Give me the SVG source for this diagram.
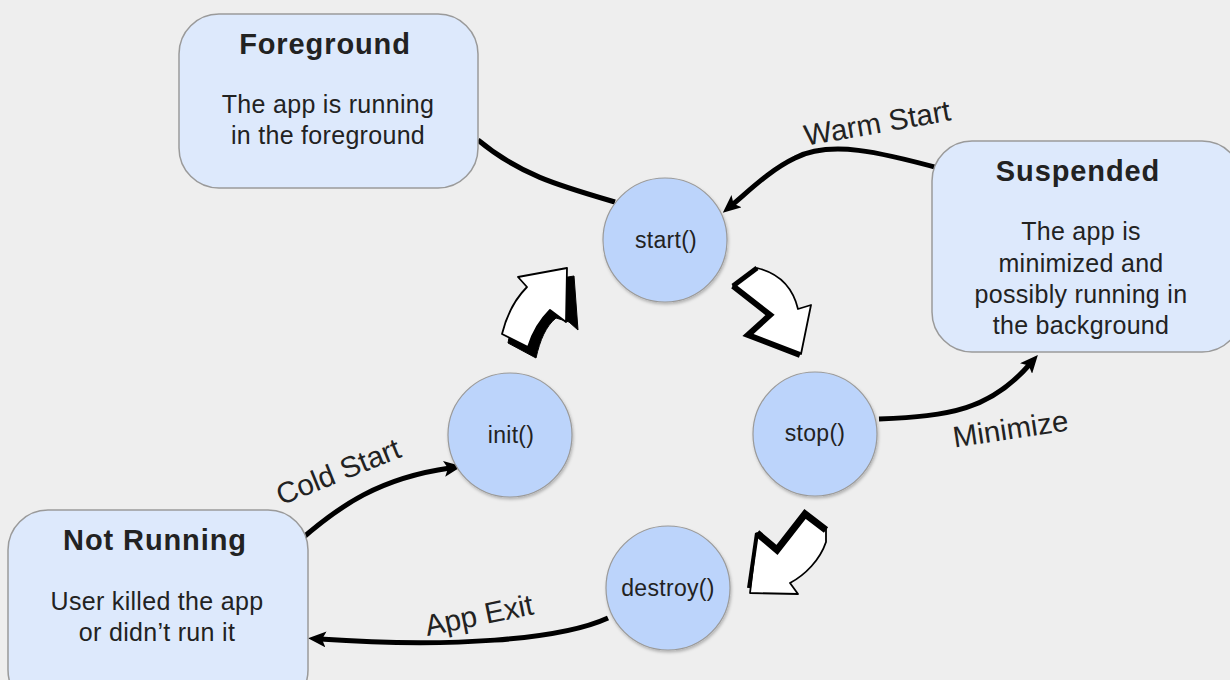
<svg xmlns="http://www.w3.org/2000/svg" width="1230" height="680" viewBox="0 0 1230 680">
  <defs>
    <style>
      .box { fill: #dde9fc; stroke: #9a9a9a; stroke-width: 1.5; }
      .circ { fill: #bcd4fb; stroke: #9a9a9a; stroke-width: 1.2; filter: url(#sh); }
      .title { font-family: "Liberation Sans", Arial, sans-serif; font-weight: bold; font-size: 29px; letter-spacing: 0.9px; fill: #222; text-anchor: middle; }
      .body { font-family: "Liberation Sans", Arial, sans-serif; font-size: 25px; letter-spacing: 0.3px; fill: #222; text-anchor: middle; }
      .fn { font-family: "Liberation Sans", Arial, sans-serif; font-size: 23px; letter-spacing: 0.3px; fill: #222; text-anchor: middle; }
      .lbl { font-family: "Liberation Sans", Arial, sans-serif; font-size: 29.5px; fill: #222; text-anchor: middle; }
      .edge { fill: none; stroke: #000; stroke-width: 5; }
      .arr { marker-end: url(#ah); }
      .face { fill: #fff; stroke: #000; stroke-width: 1.8; stroke-linejoin: round; }
      .side { fill: #000; stroke: #000; stroke-width: 1; stroke-linejoin: round; }
    </style>
    <filter id="sh" x="-20%" y="-20%" width="140%" height="140%">
      <feDropShadow dx="1" dy="2" stdDeviation="1.5" flood-color="#000" flood-opacity="0.25"/>
    </filter>
    <marker id="ah" viewBox="0 0 18 16" refX="6" refY="8" markerWidth="18" markerHeight="16" markerUnits="userSpaceOnUse" orient="auto">
      <path d="M0,0 L18,8 L0,16 L4,8 z" fill="#000"/>
    </marker>
  </defs>
  <rect width="1230" height="680" fill="#eeeeee"/>

  <g id="connectors">
    <path class="edge" d="M478,140 C520,175 560,186 615,202"/>
    <path class="edge arr" d="M942,169 C880,152 830,140 795,158 C770,170 750,190 732,205"/>
    <path class="edge arr" d="M879,419 C950,416 990,410 1030,364"/>
    <path class="edge arr" d="M298,542 C340,505 380,478 450,468"/>
    <path class="edge arr" d="M608,618 C560,640 450,648 320,639"/>
    <text class="lbl" transform="translate(879,133) rotate(-10)">Warm Start</text>
    <text class="lbl" transform="translate(1012,439) rotate(-8.5)">Minimize</text>
    <text class="lbl" transform="translate(342,481) rotate(-22)">Cold Start</text>
    <text class="lbl" transform="translate(481,625) rotate(-11.5)">App Exit</text>
  </g>

  <g id="flow-arrows">
    <g id="arrow-init-start">
      <path class="side" d="M508,343 C512,320 522,302 534,294 L526,284 L574,276 L578,330 L569,322 L556,318 C546,326 540,340 536,358 Z"/>
      <path class="face" d="M527,287 L518,277 L567,268 L566,322 L550,310 C540,320 532,334 528,347 L502,334 C506,318 514,300 527,287 Z"/>
    </g>
    <g id="arrow-start-stop">
      <path class="face" d="M757,268 Q790,276 798,309 L811,305 L801,354 L748,335 L771,315 L733,286 Z"/>
      <path d="M733,286 L770,315 L748,335 L800,355" fill="none" stroke="#000" stroke-width="6" stroke-linejoin="miter"/>
      <path d="M733,286 L757,268" fill="none" stroke="#000" stroke-width="5"/>
    </g>
    <g id="arrow-stop-destroy">
      <path class="face" d="M757,533 L750,593 L798,594 L790,583 C805,575 820,560 826,542 L826,528 L805,512 L777,548 Z"/>
      <path d="M757,533 L777,550 L805,514 L826,530" fill="none" stroke="#000" stroke-width="7" stroke-linejoin="miter"/>
      <path d="M757,533 L749,588" fill="none" stroke="#000" stroke-width="4"/>
    </g>
  </g>

  <g id="foreground">
    <rect class="box" x="179" y="14" width="299" height="174" rx="40"/>
    <text class="title" x="325" y="54">Foreground</text>
    <text class="body" x="328" y="113">The app is running</text>
    <text class="body" x="328" y="144">in the foreground</text>
  </g>

  <g id="suspended">
    <rect class="box" x="932" y="141" width="310" height="211" rx="40"/>
    <text class="title" x="1078" y="181">Suspended</text>
    <text class="body" x="1081" y="240">The app is</text>
    <text class="body" x="1081" y="272">minimized and</text>
    <text class="body" x="1081" y="303">possibly running in</text>
    <text class="body" x="1081" y="334">the background</text>
  </g>

  <g id="not-running">
    <rect class="box" x="8" y="510" width="300" height="200" rx="40"/>
    <text class="title" x="155" y="550">Not Running</text>
    <text class="body" x="157" y="610">User killed the app</text>
    <text class="body" x="157" y="641">or didn’t run it</text>
  </g>

  <g id="start">
    <circle class="circ" cx="665" cy="240" r="62"/>
    <text class="fn" x="666" y="248">start()</text>
  </g>
  <g id="init">
    <circle class="circ" cx="510" cy="435" r="62"/>
    <text class="fn" x="511" y="443">init()</text>
  </g>
  <g id="stop">
    <circle class="circ" cx="815" cy="434" r="62"/>
    <text class="fn" x="815" y="441">stop()</text>
  </g>
  <g id="destroy">
    <circle class="circ" cx="668" cy="588" r="62"/>
    <text class="fn" x="668" y="596">destroy()</text>
  </g>
</svg>
